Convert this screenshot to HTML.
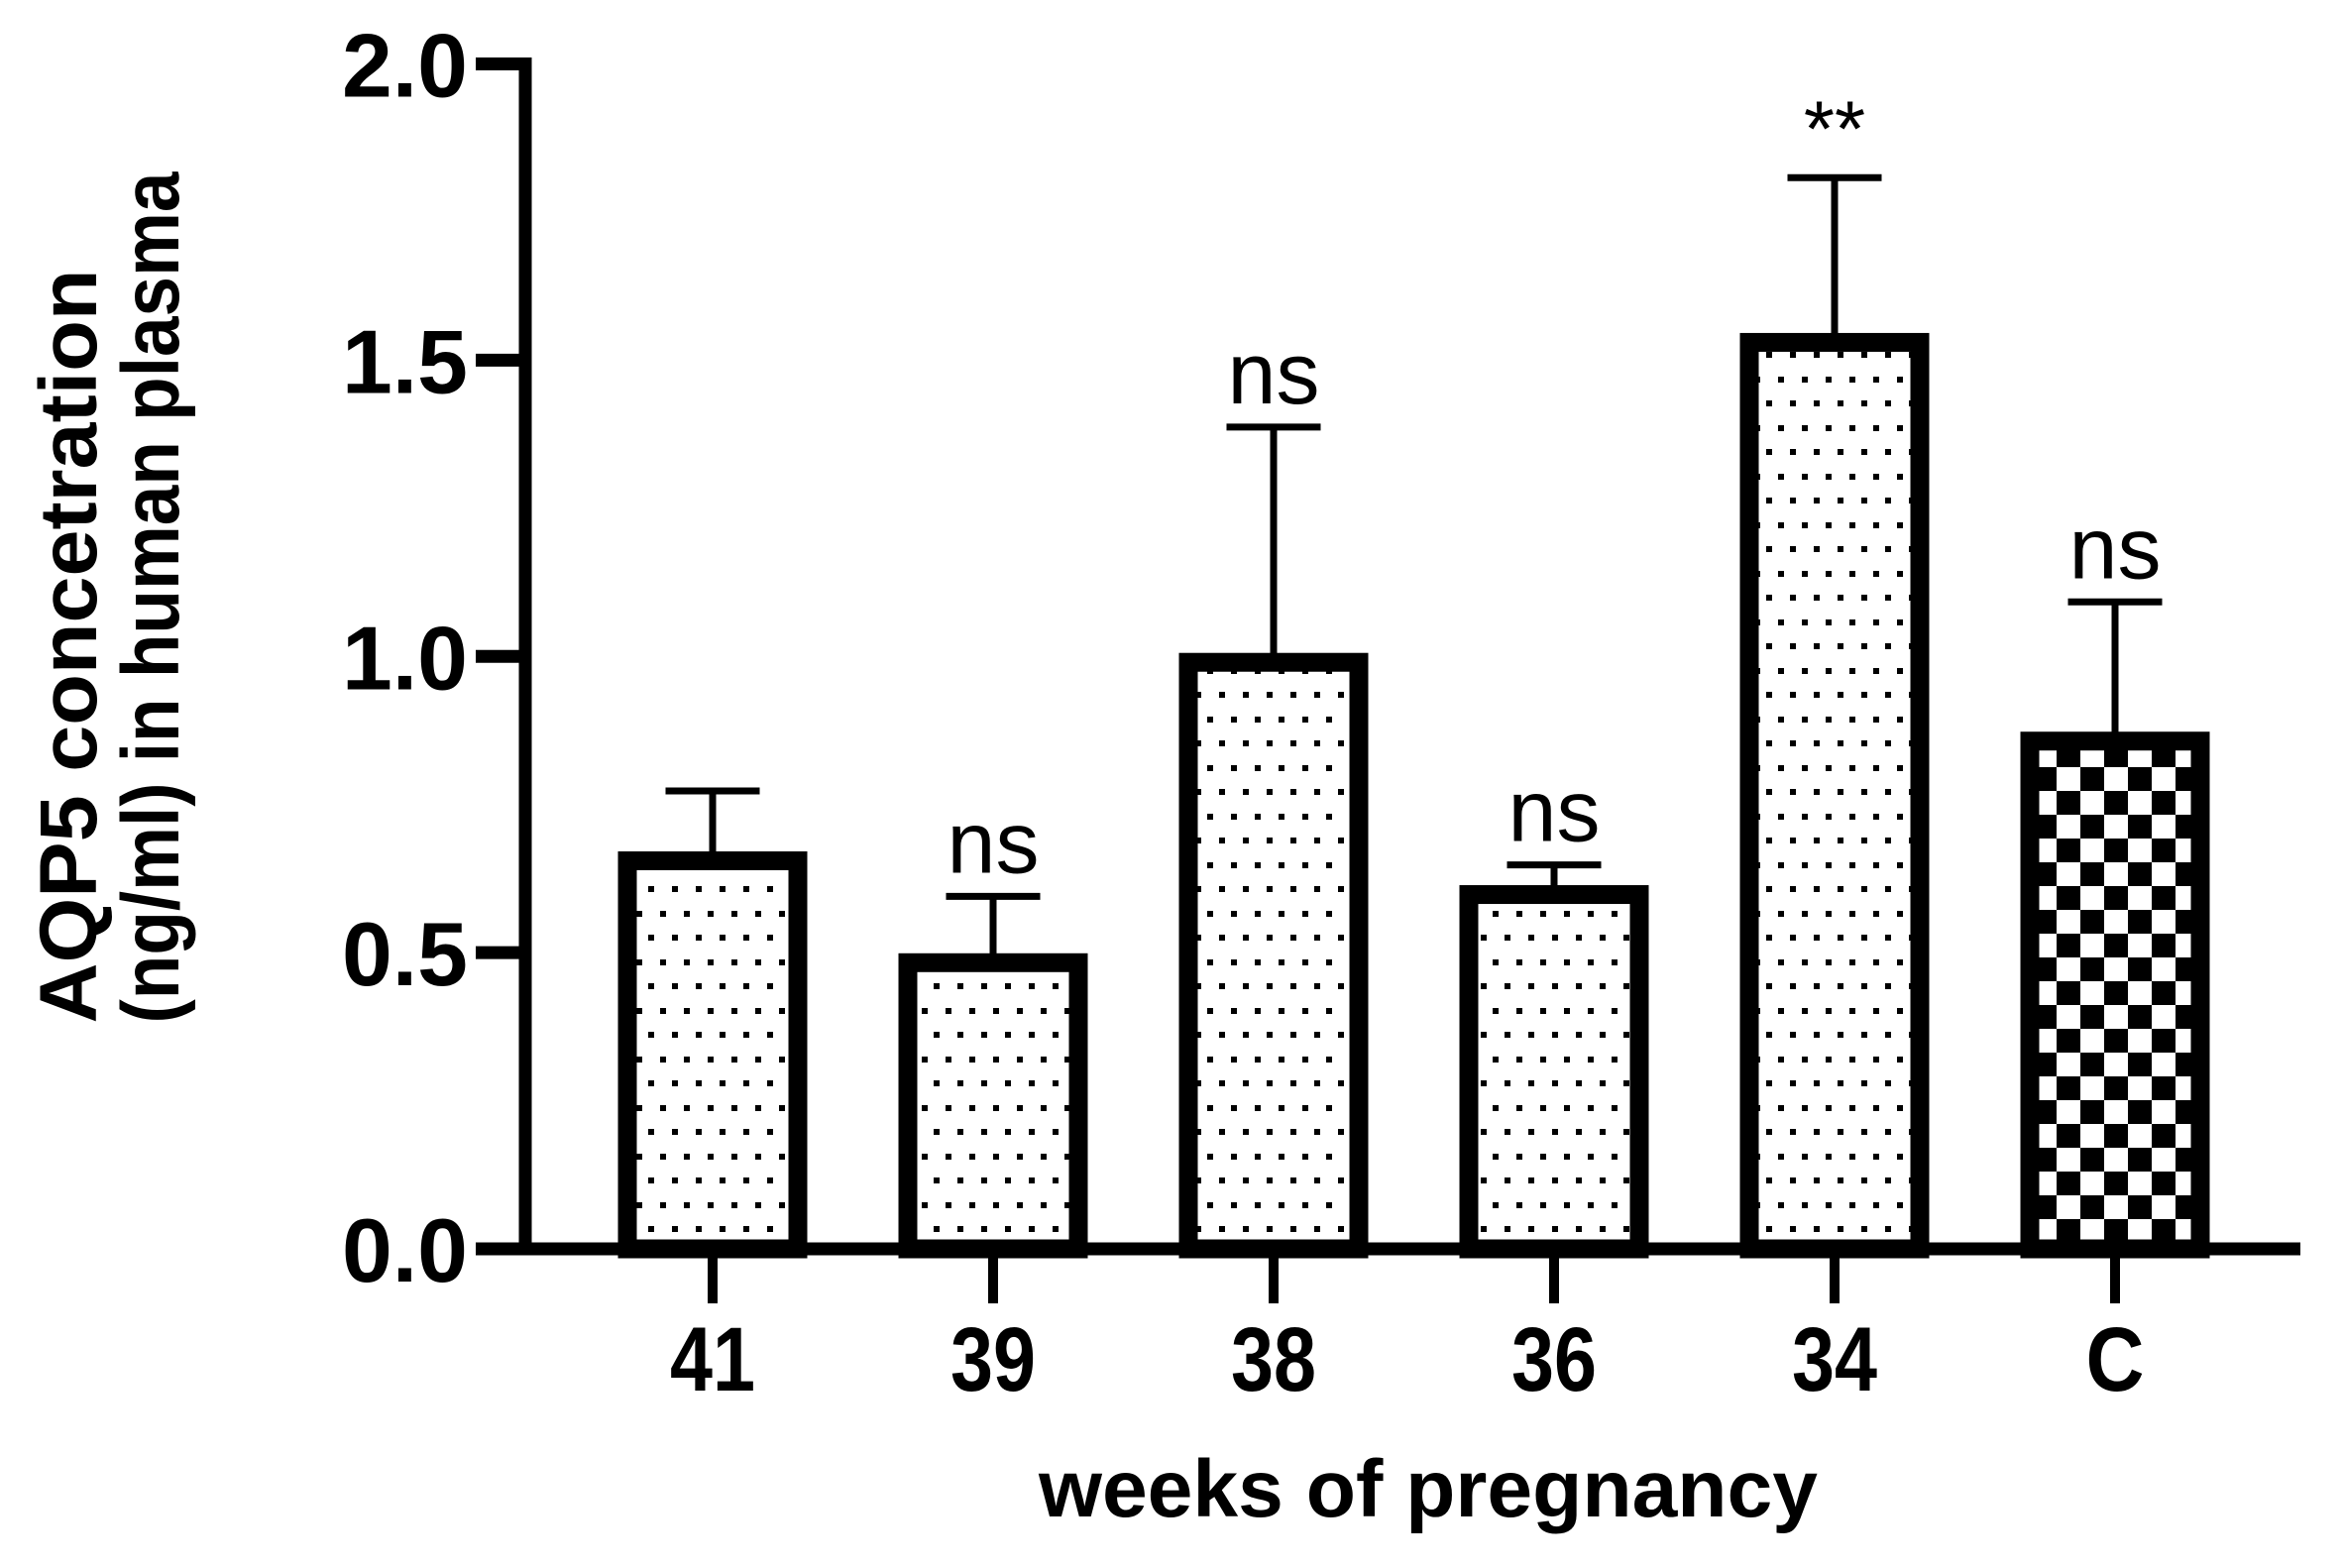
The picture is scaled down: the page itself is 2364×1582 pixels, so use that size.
<!DOCTYPE html>
<html><head><meta charset="utf-8"><style>html,body{margin:0;padding:0;background:#fff}svg{display:block}</style></head>
<body>
<svg id="chart" width="2364" height="1582" viewBox="0 0 2364 1582" xmlns="http://www.w3.org/2000/svg" font-family="'Liberation Sans', Arial, sans-serif">
<defs>
<pattern id="dots" patternUnits="userSpaceOnUse" x="654" y="894" width="24" height="49">
<rect x="0" y="0" width="24" height="49" fill="#fff"/>
<rect x="0" y="0" width="6" height="6" fill="#000"/>
<rect x="12" y="25" width="6" height="6" fill="#000"/>
</pattern>
<pattern id="checker" patternUnits="userSpaceOnUse" x="2075" y="774" width="48" height="48">
<rect x="0" y="0" width="48" height="48" fill="#fff"/>
<rect x="24" y="0" width="24" height="24" fill="#000"/>
<rect x="0" y="24" width="24" height="24" fill="#000"/>
</pattern>
</defs>
<g id="marks"></g>
<g id="axes"></g>
<text x="1441" y="1530" font-size="82" font-weight="bold" text-anchor="middle" textLength="786" lengthAdjust="spacingAndGlyphs">weeks of pregnancy</text>
<text transform="translate(97,652) rotate(-90)" font-size="82" font-weight="bold" text-anchor="middle" textLength="761" lengthAdjust="spacingAndGlyphs">AQP5 concetration</text>
<text transform="translate(180,603) rotate(-90)" font-size="82" font-weight="bold" text-anchor="middle" textLength="859" lengthAdjust="spacingAndGlyphs">(ng/ml) in human plasma</text>
</svg>
<script>
const categories = ["41","39","38","36","34","C"];
const means = [0.655, 0.483, 0.99, 0.598, 1.53, 0.857];
const errors = [0.118, 0.112, 0.397, 0.05, 0.278, 0.235];
const annotations = ["", "ns", "ns", "ns", "**", "ns"];
const fills = ["dots","dots","dots","dots","dots","checker"];
const yTicks = [0, 0.5, 1.0, 1.5, 2.0];
const yTickLabels = ["0.0","0.5","1.0","1.5","2.0"];

const NS = "http://www.w3.org/2000/svg";
const y0 = 1260, pxPerUnit = 597.75;
function yScale(v){ return y0 - v * pxPerUnit; }
function xScale(i){ return 719 + i * 283; }
function mk(tag, attrs, parent){
  const e = document.createElementNS(NS, tag);
  for (const k in attrs) e.setAttribute(k, attrs[k]);
  parent.appendChild(e);
  return e;
}
const marks = document.getElementById('marks');
const axes = document.getElementById('axes');

categories.forEach((c, i) => {
  const cx = xScale(i);
  const top = yScale(means[i]);
  const capY = yScale(means[i] + errors[i]);
  const eb = mk('line', {x1: cx, x2: cx, y1: top, y2: capY, stroke: '#000', 'stroke-width': 7}, marks);
  
  
  const cap = mk('line', {x1: cx - 47.5, x2: cx + 47.5, y1: capY, y2: capY, stroke: '#000', 'stroke-width': 7}, marks);
  
  
  const bar = mk('rect', {x: cx - 86, y: top, width: 172, height: y0 - top, fill: 'url(#' + fills[i] + ')', stroke: '#000', 'stroke-width': 19}, marks);
  
  
  if (annotations[i]) {
    const isStar = annotations[i] === '**';
    const t = mk('text', {x: cx, y: isStar ? capY - 22 : capY - 24, 'font-size': isStar ? 80 : 88, 'text-anchor': 'middle'}, marks);
    t.textContent = annotations[i];
    
    
  }
  const tk = mk('line', {x1: cx, x2: cx, y1: y0, y2: 1315, stroke: '#000', 'stroke-width': 10}, axes);
  
  
  const lbl = mk('text', {x: cx, y: 1403, 'font-size': 92, 'font-weight': 'bold', 'text-anchor': 'middle', textLength: c.length > 1 ? 86 : 59, lengthAdjust: 'spacingAndGlyphs'}, axes);
  lbl.textContent = c;
  
  
});

const yAxis = mk('line', {x1: 530, x2: 530, y1: 58, y2: 1266, stroke: '#000', 'stroke-width': 13}, axes);


const xAxis = mk('line', {x1: 480, x2: 2321, y1: y0, y2: y0, stroke: '#000', 'stroke-width': 13}, axes);


yTicks.forEach((v, i) => {
  const yy = yScale(v);
  const t = mk('line', {x1: 480, x2: 536, y1: yy, y2: yy, stroke: '#000', 'stroke-width': 13}, axes);
  
  
  const l = mk('text', {x: 472, y: yy + 33, 'font-size': 91, 'font-weight': 'bold', 'text-anchor': 'end', textLength: 127, lengthAdjust: 'spacingAndGlyphs'}, axes);
  l.textContent = yTickLabels[i];
  
  
});
</script>
</body></html>
